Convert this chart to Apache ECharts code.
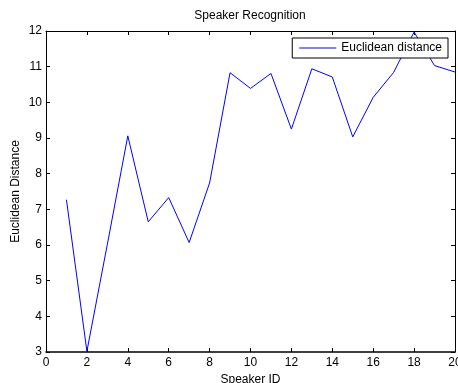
<!DOCTYPE html>
<html>
<head>
<meta charset="utf-8">
<script src="https://cdn.jsdelivr.net/npm/echarts@6/dist/echarts.min.js"></script>
<style>
html,body{margin:0;padding:0;background:#fff;}
#chart{width:458px;height:383px;}
</style>
</head>
<body>
<div id="chart"></div>
<script>
var titleText = "Speaker Recognition";
var xAxisName = "Speaker ID";
var yAxisName = "Euclidean Distance";
var seriesName = "Euclidean distance";
var speakerIds = [1,2,3,4,5,6,7,8,9,10,11,12,13,14,15,16,17,18,19,20];
var distances = [7.27,3.02,6.02,9.06,6.65,7.33,6.07,7.74,10.83,10.39,10.81,9.25,10.94,10.71,9.03,10.14,10.84,11.97,11.03,10.85];

var FONT = "Liberation Sans, Arial, sans-serif";
var points = speakerIds.map(function(x,i){return [x, distances[i]];});

var chart = echarts.init(document.getElementById('chart'));
var tickCommon = {show:true, inside:true, length:4, lineStyle:{color:'#000', width:1}};
chart.setOption({
  animation:false,
  backgroundColor:'#fff',
  title:{text:titleText, left:250, textAlign:'center', top:10, padding:0,
    textStyle:{fontFamily:FONT, fontSize:12, fontWeight:'normal', color:'#000'}},
  legend:{
    data:[{name:seriesName, icon:'rect'}],
    right:10, top:38,
    itemWidth:37, itemHeight:1, itemGap:5,
    padding:[4,6,4,7],
    borderColor:'#000', borderWidth:1, backgroundColor:'#fff',
    textStyle:{fontFamily:FONT, fontSize:12, color:'#000'}
  },
  grid:{left:46, right:3, top:31, bottom:31, containLabel:false, outerBoundsMode:'none'},
  xAxis:[{
    type:'value', min:0, max:20, interval:2,
    name:xAxisName, nameLocation:'middle', nameGap:22, nameMoveOverlap:false,
    nameTextStyle:{fontFamily:FONT, fontSize:12, color:'#000'},
    axisLine:{show:true, onZero:false, lineStyle:{color:'#000', width:1.5}},
    axisTick:tickCommon,
    axisLabel:{fontFamily:FONT, fontSize:12, color:'#000', margin:5},
    splitLine:{show:false}
  },{
    type:'value', min:0, max:20, interval:2, position:'top',
    axisLine:{show:true, onZero:false, lineStyle:{color:'#000', width:1}},
    axisTick:tickCommon, axisLabel:{show:false}, splitLine:{show:false}
  }],
  yAxis:[{
    type:'value', min:3, max:12, interval:1,
    name:yAxisName, nameLocation:'middle', nameGap:24, nameMoveOverlap:false,
    nameTextStyle:{fontFamily:FONT, fontSize:12, color:'#000'},
    axisLine:{show:true, onZero:false, lineStyle:{color:'#000', width:1}},
    axisTick:tickCommon,
    axisLabel:{fontFamily:FONT, fontSize:12, color:'#000', margin:4},
    splitLine:{show:false}
  },{
    type:'value', min:3, max:12, interval:1, position:'right',
    axisLine:{show:true, onZero:false, lineStyle:{color:'#000', width:1}},
    axisTick:tickCommon, axisLabel:{show:false}, splitLine:{show:false}
  }],
  series:[{
    name:seriesName, type:'line', data:points,
    showSymbol:false, symbol:'none',
    lineStyle:{color:'#0000ff', width:1},
    itemStyle:{color:'#0000ff'},
    z:1
  }]
});
</script>
</body>
</html>
